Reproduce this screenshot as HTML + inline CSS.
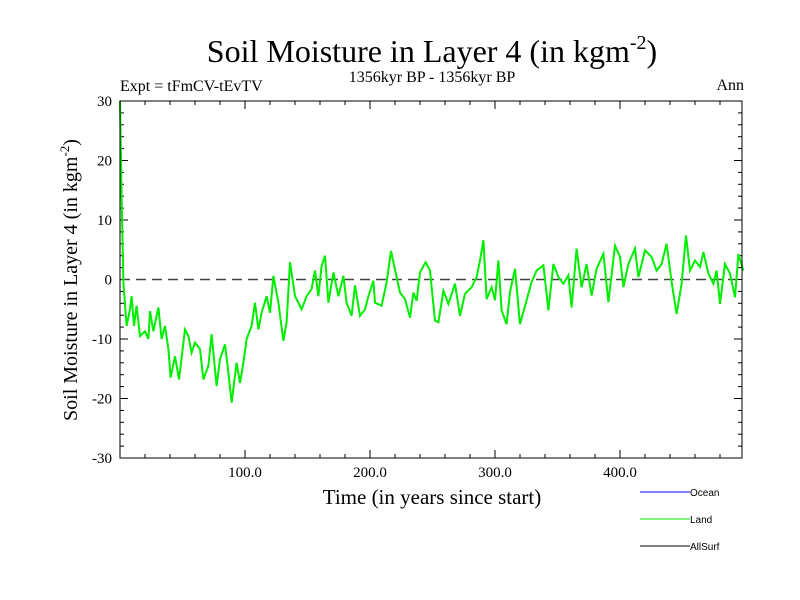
<!DOCTYPE html>
<html><head><meta charset="utf-8"><style>
body{margin:0;background:#fff;}
svg{display:block;font-family:"Liberation Serif",serif;}
</style></head><body>
<svg id="chart" width="800" height="600">
<text x="432" y="62" text-anchor="middle" font-size="32">Soil Moisture in Layer 4 (in kgm<tspan font-size="20" dy="-13">-2</tspan><tspan dy="13">)</tspan></text>
<text x="120" y="91" font-size="16">Expt = tFmCV-tEvTV</text>
<text x="432" y="82" text-anchor="middle" font-size="16">1356kyr BP - 1356kyr BP</text>
<text x="744" y="90" text-anchor="end" font-size="16">Ann</text>
<text x="432" y="504" text-anchor="middle" font-size="21">Time (in years since start)</text>
<text transform="translate(77,280) rotate(-90)" text-anchor="middle" font-size="20">Soil Moisture in Layer 4 (in kgm<tspan font-size="13" dy="-8">-2</tspan><tspan dy="8">)</tspan></text>
<g id="ticks"></g>
<line id="zero" stroke="#444" stroke-width="1.5" stroke-dasharray="10,6"/>
<polyline id="land" fill="none" stroke="#00ee00" stroke-width="2"/>
<rect x="120" y="101" width="622" height="357" fill="none" stroke="#000" stroke-width="1"/>
<g font-family="Liberation Sans,sans-serif" font-size="10">
<line x1="640" y1="492" x2="690" y2="492" stroke="#0000ff"/>
<text x="690" y="496">Ocean</text>
<line x1="640" y1="519" x2="690" y2="519" stroke="#00ee00"/>
<text x="690" y="523">Land</text>
<line x1="640" y1="546" x2="690" y2="546" stroke="#000"/>
<text x="690" y="550">AllSurf</text>
</g>
</svg>
<script>
const years=[0,1.3,2.7,5.3,8,9.3,11.2,13.3,16,20,22.7,24,26.7,30.7,33.3,36,38.7,40.5,44,47.2,52,54.7,57.3,60,64,66.7,70.7,73.3,77.3,80,84,86.7,89.3,93.3,96,98.7,101.3,105.3,108,110.7,113.3,117.3,120,122.7,126.7,130.7,133.3,136,140,142.7,145.3,149.3,153.3,156,158.7,161.3,164,166.7,170.7,174.7,178.7,181.3,185.3,188,192,196,198.7,202.7,204,209.3,213.3,216.8,220,224,228,232,234.7,237.3,240,244.5,248,252,254.7,258.7,262.7,268,272,276,281.3,285.3,288,290.7,293.3,297.3,300,302.7,305.3,309.3,312,316,320,325.3,329.3,333.3,338.7,342.7,346.7,350.7,354.7,358.7,361.3,365.3,369.3,373.3,377.3,381.3,386.7,390.7,396,400,402.7,406.7,412,414.7,420,425.3,429.3,433.3,437.3,441.3,445.3,449.3,452.8,456,460,464,466.7,470.7,474.7,477.3,480,484,488,492,494.7,498.7];
const landValues=[30,14,-0.5,-7.8,-5,-2.8,-7.8,-4.4,-9.5,-8.7,-10,-5.3,-8.7,-4.7,-10,-7.8,-11.7,-16.5,-12.9,-16.8,-8.4,-9.5,-12.3,-10.6,-11.7,-16.8,-14.5,-9.2,-17.9,-13.4,-10.9,-15.7,-20.7,-14,-17.4,-14,-10,-7.8,-3.9,-8.4,-5.6,-2.8,-5.6,0.6,-3.9,-10.3,-7.2,2.9,-2.8,-3.9,-5,-2.8,-1.6,1.5,-2.8,2.3,4,-3.9,1.2,-2.8,0.6,-3.9,-6.1,-1,-6.1,-5,-2.8,-0.2,-3.9,-4.4,-0.5,4.8,1.7,-2.2,-3.3,-6.4,-2.2,-3.6,1.2,2.9,1.5,-6.9,-7.2,-1.9,-4.1,-0.7,-6.1,-2.4,-1.3,0.4,3.2,6.6,-3.3,-1.3,-3.5,3.2,-5.2,-7.5,-2.1,1.8,-7.5,-3.5,-0.4,1.5,2.4,-5.2,2.6,0.4,-0.7,0.7,-4.7,5.2,-1.3,2.6,-2.7,1.8,4.3,-3.8,5.7,3.8,-1.3,2.6,5.2,0.4,4.9,3.8,1.5,2.6,6,-0.4,-5.8,-0.7,7.4,1.5,3.2,2.1,4.6,1,-0.7,1.5,-4.1,2.6,1,-3,4.3,1.5];
const yTickLabels=[-30,-20,-10,0,10,20,30];
const xTickLabels=[100,200,300,400];
const X0=120,X1=742,Y0=458,Y1=101;
const xs=v=>X0+(v-0)/(497.6-0)*(X1-X0);
const ys=v=>Y0-(v+30)/60*(Y0-Y1);
const NS="http://www.w3.org/2000/svg";
const g=document.getElementById('ticks');
function ln(x1,y1,x2,y2,name){const l=document.createElementNS(NS,'line');l.setAttribute('x1',x1);l.setAttribute('y1',y1);l.setAttribute('x2',x2);l.setAttribute('y2',y2);l.setAttribute('stroke','#000');


g.appendChild(l);}
function tx(x,y,s,anchor,name){const t=document.createElementNS(NS,'text');t.setAttribute('x',x);t.setAttribute('y',y);t.setAttribute('font-size','15');t.setAttribute('text-anchor',anchor);t.textContent=s;


g.appendChild(t);}
for(let v=-30;v<=30;v+=2){const y=ys(v);const maj=v%10===0;const L=maj?8:4;ln(X0,y,X0+L,y,'y-tick');ln(X1,y,X1-L,y,'y-tick');}
yTickLabels.forEach(v=>tx(X0-8,ys(v)+5,String(v),'end','y-tick-label'));
for(let v=20;v<=480;v+=20){const x=xs(v);const maj=v%100===0;const L=maj?8:4;ln(x,Y0,x,Y0-L,'x-tick');ln(x,Y1,x,Y1+L,'x-tick');}
xTickLabels.forEach(v=>tx(xs(v),Y0+19,v.toFixed(1),'middle','x-tick-label'));
const z=document.getElementById('zero');z.setAttribute('x1',X0);z.setAttribute('x2',X1);z.setAttribute('y1',ys(0));z.setAttribute('y2',ys(0));
document.getElementById('land').setAttribute('points',years.map((yr,i)=>xs(yr).toFixed(1)+','+ys(landValues[i]).toFixed(1)).join(' '));
</script>
</body></html>
